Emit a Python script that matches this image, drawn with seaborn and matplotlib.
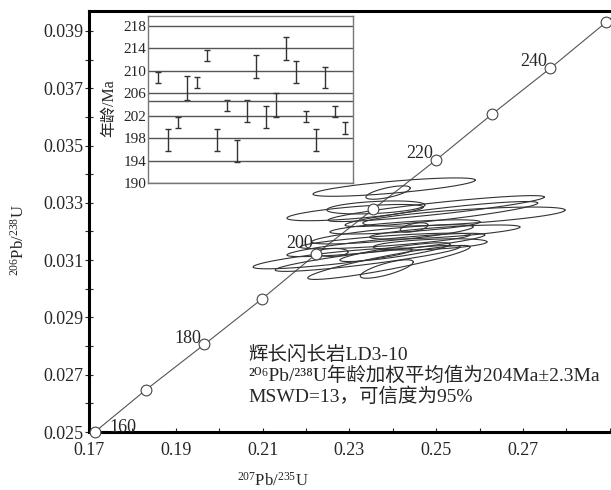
import numpy as np
import pandas as pd
import matplotlib
matplotlib.use("Agg")
import matplotlib.pyplot as plt
from matplotlib.ticker import MultipleLocator, FormatStrFormatter
import seaborn as sns

# concordia reference points (Ma)
conc_age = [160, 170, 180, 190, 200, 210, 220, 230, 240, 250]
conc_x = [0.1714, 0.1831, 0.1966, 0.2098, 0.2223, 0.2355, 0.2500, 0.2629, 0.2763, 0.2891]
conc_y = [0.02501, 0.02647, 0.02806, 0.02964, 0.03121, 0.03278, 0.03450, 0.03610, 0.03770, 0.03930]
# the curve runs on past the frame at both ends
line_x = [0.1650] + conc_x + [0.2960]
line_y = [0.02420] + conc_y + [0.04016]
label_ages = [160, 180, 200, 220, 240]

# axis tick labels
x_ticks = [0.17, 0.19, 0.21, 0.23, 0.25, 0.27]
y_ticks = [0.025, 0.027, 0.029, 0.031, 0.033, 0.035, 0.037, 0.039]

# error ellipses: 207/235, 1s, 206/238, 1s, rho
ell_x = [0.2403, 0.2389, 0.2361, 0.2313, 0.2500, 0.2564, 0.2512, 0.2399, 0.2384, 0.2261,
         0.2342, 0.2391, 0.2386, 0.2449, 0.2261, 0.2486, 0.2382, 0.2428, 0.2405, 0.2520]
ell_sx = [0.0187, 0.0051, 0.0113, 0.0157, 0.0249, 0.0233, 0.0222, 0.0186, 0.0228, 0.0183,
          0.0213, 0.0187, 0.0061, 0.0032, 0.0036, 0.0131, 0.0196, 0.0173, 0.0127, 0.0173]
ell_y = [0.03355, 0.03336, 0.03284, 0.03266, 0.03280, 0.03252, 0.03261, 0.03190, 0.03153, 0.03106,
         0.03106, 0.03092, 0.03069, 0.03214, 0.03127, 0.03155, 0.03167, 0.03216, 0.03128, 0.03198]
ell_sy = [0.000321, 0.000234, 0.000227, 0.000284, 0.000453, 0.000334, 0.000437, 0.000335, 0.000407, 0.000363,
          0.000453, 0.000594, 0.000322, 0.000164, 0.000140, 0.000196, 0.000272, 0.000248, 0.000329, 0.000248]
ell_rho = [0.76, 0.67, 0.38, 0.68, 0.89, 0.68, 0.88, 0.78, 0.86, 0.82,
           0.89, 0.91, 0.76, 0.53, 0.12, 0.45, 0.77, 0.71, 0.85, 0.71]

# inset: 206Pb/238U ages per spot
spot = list(range(1, 21))
spot_age = [208.8, 197.7, 200.8, 206.9, 207.9, 212.8, 197.7, 203.8, 195.7, 202.8,
            210.8, 201.8, 203.9, 213.9, 209.8, 201.8, 197.7, 208.8, 202.8, 199.8]
spot_err = [1.0, 2.0, 1.0, 2.1, 1.0, 1.0, 2.0, 1.0, 1.9, 2.0,
            2.0, 2.0, 2.1, 2.05, 2.0, 1.0, 2.0, 1.9, 1.0, 1.0]
inset_ticks = [190, 194, 198, 202, 206, 210, 214, 218]
mean_age = 204.6

sns.set_theme(style="white")
plt.rcParams["font.family"] = ["Liberation Serif", "DejaVu Serif", "Noto Sans CJK SC"]
plt.rcParams["axes.unicode_minus"] = False
plt.rcParams["mathtext.fontset"] = "custom"
plt.rcParams["mathtext.rm"] = "Liberation Serif"

fig = plt.figure(figsize=(6.11, 4.90), dpi=100)
ax = fig.add_axes([89/611, 58/490, 522/611, 421/490])

df = pd.DataFrame({"x": line_x, "y": line_y})
sns.lineplot(data=df, x="x", y="y", sort=False, color="#555555", lw=0.8, ax=ax)

t = np.linspace(0, 2*np.pi, 240)
for cx, sx, cy, sy, r in zip(ell_x, ell_sx, ell_y, ell_sy, ell_rho):
    ex = cx + sx*np.cos(t)
    ey = cy + sy*(r*np.cos(t) + np.sqrt(1 - r**2)*np.sin(t))
    ax.plot(ex, ey, color="#333333", lw=0.8)

pts = pd.DataFrame({"x": conc_x, "y": conc_y, "age": conc_age})
sns.scatterplot(data=pts, x="x", y="y", s=60, color="white", edgecolor="#444444",
                linewidth=0.8, zorder=5, ax=ax, clip_on=False)

for a, x, y in zip(conc_age, conc_x, conc_y):
    if a not in label_ages:
        continue
    if a == 160:
        ax.annotate(str(a), (x, y), xytext=(10, 3), textcoords="offset points",
                    ha="left", va="center", fontsize=13)
    else:
        dy = 8 if a == 200 else 4.5
        ax.annotate(str(a), (x, y), xytext=(-2, dy), textcoords="offset points",
                    ha="right", va="center", fontsize=13)

ax.set_xlim(0.17, 0.17 + 522/4340)
ax.set_ylim(0.025, 0.025 + 421/28643)
ax.set_xticks(x_ticks)
ax.set_yticks(y_ticks)
ax.xaxis.set_minor_locator(MultipleLocator(0.01))
ax.yaxis.set_minor_locator(MultipleLocator(0.001))
ax.xaxis.set_major_formatter(FormatStrFormatter("%.2f"))
ax.yaxis.set_major_formatter(FormatStrFormatter("%.3f"))
ax.tick_params(axis="x", which="both", direction="in", length=3, width=0.8,
               bottom=True, labelsize=13, pad=7)
ax.tick_params(axis="y", which="both", direction="inout", length=6, width=0.8,
               left=True, labelsize=13, pad=1)
ax.set_xlabel(r"$\mathregular{^{207}}$Pb/$\mathregular{^{235}}$U", fontsize=12)
ax.set_ylabel(r"$\mathregular{^{206}}$Pb/$\mathregular{^{238}}$U", fontsize=12)
ax.xaxis.set_label_coords((273 - 89)/522, -0.095)
ax.yaxis.set_label_coords(-0.118, 0.456)
for s in ["left", "bottom", "top"]:
    ax.spines[s].set_linewidth(2.2)
    ax.spines[s].set_color("black")
ax.spines["right"].set_visible(False)

fig.text(248/611, 1 - 355/490, "辉长闪长岩LD3-10", fontsize=14, va="center")
fig.text(248/611, 1 - 376/490, "²⁰⁶Pb/²³⁸U年龄加权平均值为204Ma±2.3Ma", fontsize=14, va="center")
fig.text(248/611, 1 - 397/490, "MSWD=13，可信度为95%", fontsize=14, va="center")

# inset with spot ages
ins = fig.add_axes([148/611, 1 - 183/490, 205/611, 167/490])
ins.set_facecolor("white")
ins.errorbar(spot, spot_age, yerr=spot_err, fmt="none", ecolor="#333333",
             elinewidth=1, capsize=2, capthick=1)
ins.axhline(mean_age, color="#555555", lw=1)
ins.set_xlim(0, 20.8)
ins.set_ylim(190, 190 + 167/5.607)
ins.set_yticks(inset_ticks)
ins.set_xticks([])
ins.yaxis.grid(True, color="#555555", lw=1)
ins.tick_params(axis="y", length=0, labelsize=11, pad=1)
ins.set_ylabel("年龄/Ma", fontsize=11.5)
ins.yaxis.set_label_coords(-0.151, 0.449)
for s in ins.spines.values():
    s.set_color("#777777")
    s.set_linewidth(1)

fig.savefig("out.png", dpi=100)
